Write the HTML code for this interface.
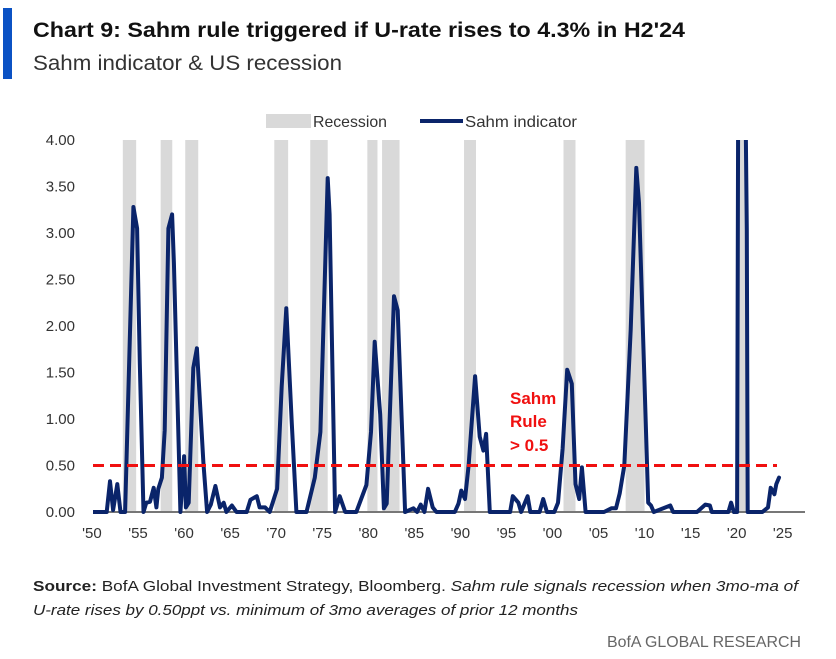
<!DOCTYPE html>
<html><head><meta charset="utf-8"><style>
body{margin:0;background:#fff;width:836px;height:654px;overflow:hidden;font-family:"Liberation Sans",sans-serif}
svg text{font-family:"Liberation Sans",sans-serif}
</style></head><body>
<svg id="chart" width="836" height="654">
<rect x="3" y="8" width="9" height="71" fill="#0b52c4"/>
<text x="33" y="37" font-size="21" font-weight="bold" fill="#111" textLength="652" lengthAdjust="spacingAndGlyphs">Chart 9: Sahm rule triggered if U-rate rises to 4.3% in H2'24</text>
<text x="33" y="70" font-size="21" fill="#333" textLength="309" lengthAdjust="spacingAndGlyphs">Sahm indicator &amp; US recession</text>
<g>
<rect x="266" y="114" width="45" height="14" fill="#d9d9d9"/>
<text x="313" y="127" font-size="16" fill="#333" textLength="74" lengthAdjust="spacingAndGlyphs">Recession</text>
<line x1="420" y1="121" x2="463" y2="121" stroke="#0a246a" stroke-width="4"/>
<text x="465" y="127" font-size="16" fill="#333" textLength="112" lengthAdjust="spacingAndGlyphs">Sahm indicator</text>
</g>
<defs><clipPath id="plotclip"><rect x="93" y="140" width="715" height="375"/></clipPath></defs>
<g id="bands"></g>
<g id="yaxis"></g>
<g id="xaxis"></g>
<line x1="93" y1="512" x2="805" y2="512" stroke="#777" stroke-width="2"/>
<g id="series" clip-path="url(#plotclip)"></g>
<line id="threshold" stroke="#f01010" stroke-width="3" stroke-dasharray="11,6"/>
<text font-size="17" fill="#f01010" font-weight="600"><tspan x="510" y="404">Sahm</tspan><tspan x="510" y="427">Rule</tspan><tspan x="510" y="451">&gt; 0.5</tspan></text>
<text x="33" y="591" font-size="15" fill="#222" textLength="765" lengthAdjust="spacingAndGlyphs"><tspan font-weight="bold">Source:</tspan> BofA Global Investment Strategy, Bloomberg. <tspan font-style="italic">Sahm rule signals recession when 3mo-ma of</tspan></text>
<text x="33" y="615" font-size="15" fill="#222" font-style="italic" textLength="545" lengthAdjust="spacingAndGlyphs">U-rate rises by 0.50ppt vs. minimum of 3mo averages of prior 12 months</text>
<text x="801" y="647" font-size="16" fill="#666" text-anchor="end" textLength="194" lengthAdjust="spacingAndGlyphs">BofA GLOBAL RESEARCH</text>
</svg>
<script>
const recessionStarts=[1953.35,1957.46,1960.13,1969.8,1973.7,1979.9,1981.5,1990.4,2001.2,2007.95,2020.1];
const recessionEnds=[1954.8,1958.72,1961.54,1971.3,1975.6,1981.0,1983.4,1991.7,2002.5,2010.0,2021.2];
const sahmYears=[1950,1951.6,1951.96,1952.3,1952.75,1953.1,1953.6,1954.5,1954.9,1955.2,1955.6,1955.9,1956.3,1956.7,1957.0,1957.2,1957.6,1957.9,1958.3,1958.7,1958.9,1959.6,1960.0,1960.2,1960.5,1961.0,1961.4,1962.1,1962.5,1962.9,1963.4,1963.9,1964.3,1964.6,1965.2,1965.7,1966.8,1967.2,1967.9,1968.2,1968.8,1969.3,1970.1,1970.6,1971.1,1971.7,1972.2,1973.3,1974.2,1974.8,1975.6,1975.8,1976.4,1976.9,1977.5,1978.7,1979.8,1980.3,1980.7,1981.3,1981.7,1982.0,1982.8,1983.2,1984.0,1984.9,1985.3,1985.7,1986.1,1986.5,1987.0,1987.4,1989.4,1989.8,1990.1,1990.5,1990.9,1991.6,1992.1,1992.5,1992.8,1993.2,1995.4,1995.7,1996.3,1996.6,1997.3,1997.6,1998.6,1999.0,1999.4,2000.2,2000.6,2001.1,2001.6,2002.1,2002.5,2002.9,2003.2,2003.6,2005.6,2006.4,2006.9,2007.3,2007.8,2008.5,2009.1,2009.4,2010.4,2010.7,2011.0,2012.8,2013.1,2015.7,2016.6,2017.1,2017.3,2019.1,2019.4,2019.7,2020.05,2020.3,2020.8,2021.1,2021.2,2022.8,2023.4,2023.7,2024.1,2024.3,2024.6];
const sahmValues=[0,0,0.33,0.02,0.30,0,0,3.28,3.05,1.6,0,0.1,0.11,0.26,0.05,0.25,0.37,0.88,3.05,3.2,2.68,0,0.6,0.05,0.1,1.55,1.76,0.53,0,0.08,0.28,0.05,0.1,0,0.07,0,0,0.13,0.17,0.05,0.05,0,0.25,1.35,2.19,0.95,0,0,0.37,0.86,3.59,3.2,0,0.17,0,0,0.29,0.86,1.83,1.05,0.04,0.09,2.32,2.17,0,0.04,0,0.08,0,0.25,0.05,0,0,0.09,0.23,0.14,0.5,1.46,0.81,0.66,0.84,0,0,0.17,0.1,0,0.17,0,0,0.14,0,0,0.1,0.68,1.53,1.38,0.3,0.14,0.48,0,0,0.04,0.04,0.2,0.5,1.96,3.70,3.32,0.1,0.07,0,0.07,0,0,0.08,0.07,0,0,0.1,0,0,9.5,6.0,3.03,0,0,0.05,0.26,0.19,0.3,0.37];
const yTicks=[0,0.5,1,1.5,2,2.5,3,3.5,4];
const yTickLabels=["0.00","0.50","1.00","1.50","2.00","2.50","3.00","3.50","4.00"];
const xTicks=[1950,1955,1960,1965,1970,1975,1980,1985,1990,1995,2000,2005,2010,2015,2020,2025];
const xTickLabels=["'50","'55","'60","'65","'70","'75","'80","'85","'90","'95","'00","'05","'10","'15","'20","'25"];
const threshold=[0.5];

const NS="http://www.w3.org/2000/svg";
const xs=y=>138+(y-1955)*9.21;
const ys=v=>512-v*93;
function mk(tag,attrs,parent){const e=document.createElementNS(NS,tag);for(const k in attrs)e.setAttribute(k,attrs[k]);document.getElementById(parent).appendChild(e);return e;}

recessionStarts.forEach((s,i)=>{
  const r=mk('rect',{x:xs(s),y:ys(4),width:xs(recessionEnds[i])-xs(s),height:ys(0)-ys(4),fill:'#d9d9d9'},'bands');
  
  
});
yTicks.forEach((t,i)=>{
  const tx=mk('text',{x:75,y:ys(t)+5,'font-size':15,fill:'#333','text-anchor':'end'},'yaxis');
  tx.textContent=yTickLabels[i];
  
  
});
xTicks.forEach((t,i)=>{
  const tx=mk('text',{x:xs(t),y:538,'font-size':15,fill:'#333','text-anchor':'middle'},'xaxis');
  tx.textContent=xTickLabels[i];
  
  
});
const d=sahmYears.map((y,i)=>(i?'L':'M')+xs(y).toFixed(1)+','+ys(sahmValues[i]).toFixed(1)).join(' ');
const p=mk('path',{d:d,fill:'none',stroke:'#0a246a','stroke-width':4,'stroke-linejoin':'round','stroke-linecap':'round'},'series');


const th=document.getElementById('threshold');
th.setAttribute('x1',93);th.setAttribute('x2',777);
th.setAttribute('y1',ys(threshold[0]));th.setAttribute('y2',ys(threshold[0]));
</script>
</body></html>
